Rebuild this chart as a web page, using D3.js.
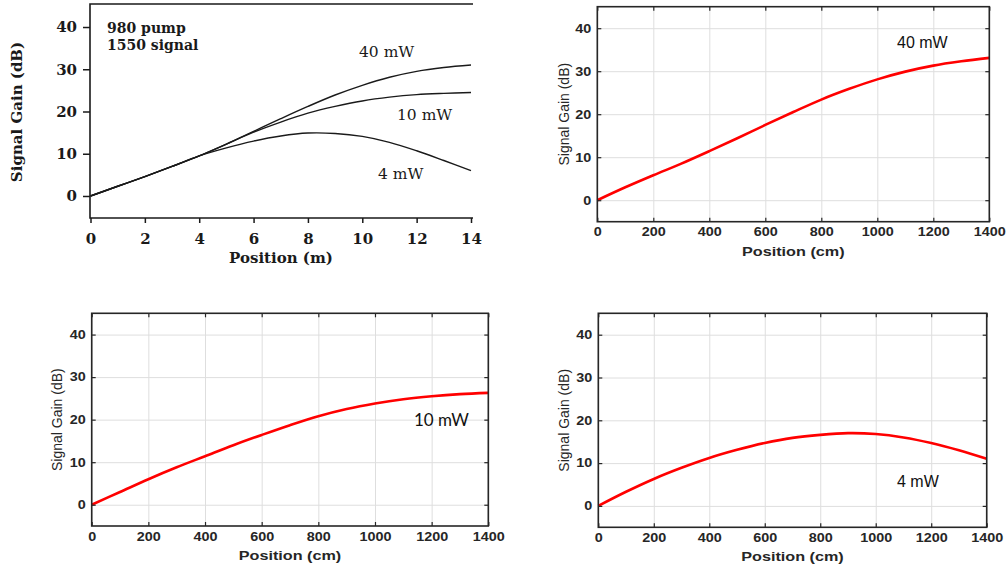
<!DOCTYPE html>
<head>
  <meta charset="UTF-8" />
  <title>Signal gain vs position</title>
  <style>
    body { margin: 0; background: #fff; }
    svg { display: block; }
    .sx { transform-box: fill-box; transform-origin: center; transform: scaleX(1.2); }
    .sxr { transform-box: fill-box; transform-origin: right center; transform: scaleX(1.2); }
  </style>
</head>
<body>
  <svg width="1007" height="566"></svg>
</body>

<script src="https://cdn.jsdelivr.net/npm/d3@7"></script>
<script>
  // measured curves (top-left, position in m)
  const posM = [0, 1, 2, 3, 4, 5, 6, 7, 8, 9, 10, 11, 12, 13, 14];
  const gain40Meas = [0, 2.3, 4.6, 7.0, 9.5, 12.3, 15.3, 18.3, 21.2, 23.9, 26.2, 28.1, 29.5, 30.4, 31.0];
  const gain10Meas = [0, 2.3, 4.6, 7.0, 9.5, 12.3, 15.1, 17.5, 19.6, 21.2, 22.5, 23.4, 24.0, 24.3, 24.5];
  const gain4Meas = [0, 2.3, 4.6, 7.0, 9.5, 11.4, 13.0, 14.2, 14.9, 14.8, 14.1, 12.7, 10.7, 8.4, 6.0];

  // simulated curves (position in cm)
  const posCm = [0, 100, 200, 300, 400, 500, 600, 700, 800, 900, 1000, 1100, 1200, 1300, 1400];
  const gain40Sim = [0, 3.0, 5.8, 8.5, 11.4, 14.4, 17.5, 20.5, 23.4, 25.9, 28.1, 29.9, 31.3, 32.3, 33.1];
  const gain10Sim = [0, 3.0, 6.0, 8.8, 11.4, 14.0, 16.4, 18.7, 20.8, 22.5, 23.8, 24.8, 25.5, 26.0, 26.3];
  const gain4Sim = [0, 3.3, 6.3, 8.9, 11.2, 13.1, 14.7, 15.9, 16.6, 17.0, 16.8, 16.0, 14.7, 13.0, 11.0];

  // tick labels
  const ticksM = [0, 2, 4, 6, 8, 10, 12, 14];
  const ticksCm = [0, 200, 400, 600, 800, 1000, 1200, 1400];
  const ticksGain = [0, 10, 20, 30, 40];

  const svg = d3.select("svg");
  const fmt = d3.format("d");

  // ---------- top-left: scanned paper figure ----------
  const serif = "DejaVu Serif";
  const xM = d3.scaleLinear().domain([0, 14]).range([90.5, 471]);
  const yM = d3.scaleLinear().domain([-5, 45]).range([217.1, 5.9]);

  // frame lines (left, bottom, top)
  svg.append("path")
    .attr("d", "M473,4H90V218H473")
    .attr("fill", "none")
    .attr("stroke", "#1a1a1a")
    .attr("stroke-width", 1.6);

  const axL = svg.append("g")
    .attr("transform", "translate(90,0)")
    .call(d3.axisLeft(yM).tickValues(ticksGain).tickFormat(fmt).tickSize(7).tickPadding(6));
  const axB = svg.append("g")
    .attr("transform", "translate(0,218)")
    .call(d3.axisBottom(xM).tickValues(ticksM).tickFormat(fmt).tickSize(5).tickPadding(10));
  [axL, axB].forEach(a => {
    a.select(".domain").remove();
    a.selectAll("line").attr("stroke", "#1a1a1a").attr("stroke-width", 1.5);
    a.selectAll("text")
      .attr("fill", "#1a1a1a")
      .style("font-family", serif)
      .style("font-weight", "bold")
      .style("font-size", "15px");
  });

  const lineM = d3.line().x((d, i) => xM(posM[i])).y(d => yM(d)).curve(d3.curveCatmullRom);
  [gain40Meas, gain10Meas, gain4Meas].forEach(s => {
    svg.append("path")
      .attr("d", lineM(s))
      .attr("fill", "none")
      .attr("stroke", "#1a1a1a")
      .attr("stroke-width", 1.4);
  });

  svg.append("text")
    .attr("transform", "translate(22,112) rotate(-90)")
    .attr("text-anchor", "middle")
    .style("font-family", serif).style("font-weight", "bold").style("font-size", "15px")
    .attr("fill", "#1a1a1a")
    .text("Signal Gain (dB)");
  svg.append("text")
    .attr("x", 281).attr("y", 263)
    .attr("text-anchor", "middle")
    .style("font-family", serif).style("font-weight", "bold").style("font-size", "15px")
    .attr("fill", "#1a1a1a")
    .text("Position (m)");

  const notes = [
    { t: "980 pump", x: 107, y: 33, w: "bold", s: 14 },
    { t: "1550 signal", x: 107, y: 50, w: "bold", s: 14 },
    { t: "40 mW", x: 359, y: 57, w: "normal", s: 15.5 },
    { t: "10 mW", x: 397, y: 120, w: "normal", s: 15.5 },
    { t: "4 mW", x: 378, y: 179, w: "normal", s: 15.5 }
  ];
  notes.forEach(n => {
    svg.append("text")
      .attr("x", n.x).attr("y", n.y)
      .style("font-family", serif).style("font-weight", n.w).style("font-size", n.s + "px")
      .attr("fill", "#1a1a1a")
      .text(n.t);
  });

  // ---------- MATLAB style panels ----------
  function matPanel(x0, x1, yTop, yBot, series, label, lx, ly, lfont, ylabX) {
    const x = d3.scaleLinear().domain([0, 1400]).range([x0, x1]);
    const y = d3.scaleLinear().domain([-5, 45]).range([yBot, yTop]);
    const h = yBot - yTop, w = x1 - x0;
    const g = svg.append("g");

    // grid
    g.append("g")
      .attr("transform", `translate(0,${yBot})`)
      .call(d3.axisBottom(x).tickValues(ticksCm).tickSize(-h).tickFormat(""))
      .call(a => { a.select(".domain").remove(); a.selectAll("line").attr("stroke", "#dedede"); });
    g.append("g")
      .attr("transform", `translate(${x0},0)`)
      .call(d3.axisLeft(y).tickValues(ticksGain).tickSize(-w).tickFormat(""))
      .call(a => { a.select(".domain").remove(); a.selectAll("line").attr("stroke", "#dedede"); });

    // curve
    const line = d3.line().x((d, i) => x(posCm[i])).y(d => y(d)).curve(d3.curveCatmullRom);
    g.append("path")
      .attr("d", line(series))
      .attr("fill", "none")
      .attr("stroke", "#ff0000")
      .attr("stroke-width", 2.6);

    // inward ticks on all sides
    const bottom = g.append("g").attr("transform", `translate(0,${yBot})`)
      .call(d3.axisBottom(x).tickValues(ticksCm).tickFormat(fmt).tickSize(-4).tickPadding(6));
    const left = g.append("g").attr("transform", `translate(${x0},0)`)
      .call(d3.axisLeft(y).tickValues(ticksGain).tickFormat(fmt).tickSize(-4).tickPadding(6));
    const top = g.append("g").attr("transform", `translate(0,${yTop})`)
      .call(d3.axisTop(x).tickValues(ticksCm).tickSize(-4).tickFormat(""));
    const right = g.append("g").attr("transform", `translate(${x1},0)`)
      .call(d3.axisRight(y).tickValues(ticksGain).tickSize(-4).tickFormat(""));
    [bottom, left, top, right].forEach(a => {
      a.select(".domain").remove();
      a.selectAll("line").attr("stroke", "#262626").attr("stroke-width", 1.2);
      a.selectAll("text")
        .attr("fill", "#262626")
        .style("font-family", "Liberation Sans, Arial, sans-serif")
        .style("font-weight", "bold")
        .style("font-size", "12px");
    });
    bottom.selectAll("text").attr("class", "sx");
    left.selectAll("text").attr("class", "sxr");

    // box
    g.append("rect")
      .attr("x", x0).attr("y", yTop)
      .attr("width", w).attr("height", h)
      .attr("fill", "none")
      .attr("stroke", "#262626")
      .attr("stroke-width", 1.6);

    g.append("text")
      .attr("class", "sx")
      .attr("x", (x0 + x1) / 2).attr("y", yBot + 34)
      .attr("text-anchor", "middle")
      .attr("fill", "#262626")
      .style("font-family", "Liberation Sans, Arial, sans-serif")
      .style("font-weight", "bold").style("font-size", "13.5px")
      .text("Position (cm)");
    g.append("text")
      .attr("transform", `translate(${ylabX},${(yTop + yBot) / 2}) rotate(-90)`)
      .attr("text-anchor", "middle")
      .attr("fill", "#262626")
      .style("font-family", "Liberation Sans, Arial, sans-serif")
      .style("font-size", "14px")
      .text("Signal Gain (dB)");

    g.append("text")
      .attr("x", lx).attr("y", ly)
      .attr("fill", "#111")
      .style("font-family", lfont.f)
      .style("font-size", lfont.s + "px")
      .text(label);
  }

  const arial = { f: "Liberation Sans, Arial, sans-serif", s: 16 };
  const calib = { f: "Lato, sans-serif", s: 17 };
  matPanel(597.3, 989.3, 6.7, 221.7, gain40Sim, "40 mW", 897, 47.5, arial, 569);
  matPanel(91.7, 488.3, 313.3, 526, gain10Sim, "10 mW", 414, 426, calib, 61.5);
  matPanel(598.3, 986.7, 313.3, 527.3, gain4Sim, "4 mW", 897, 486.5, arial, 569);
</script>
